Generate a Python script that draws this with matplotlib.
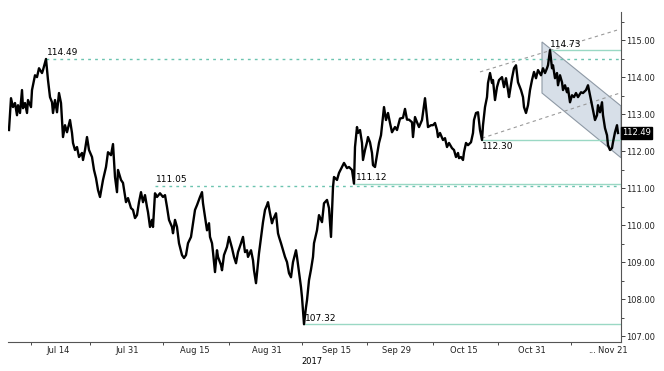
import matplotlib
matplotlib.use('Agg')
import matplotlib.pyplot as plt
from matplotlib.transforms import blended_transform_factory

# bar index (time) and close price
bars = [9, 11, 13, 15, 17, 18, 20, 22, 23, 25, 27, 28, 31, 32, 33, 35, 37, 39, 42, 43, 46, 48, 50, 52, 53,
        55, 57, 59, 61, 63, 65, 67, 70, 72, 73, 75, 77, 79, 82, 83, 85, 87, 89, 92, 94, 96, 98,
        100, 103, 106, 108, 111, 113, 115, 117, 118, 121, 123, 126, 128, 131, 133, 135, 137, 139, 141,
        143, 145, 147, 148, 150, 152, 153, 155, 157, 160, 163, 165, 167, 169, 172, 173, 175, 177, 179,
        182, 184, 186, 188, 191, 193, 195, 197, 200, 202, 203, 205, 207, 209, 210, 212, 213, 215, 217,
        218, 221, 222, 224, 227, 229, 232, 234, 236, 238, 241, 243, 245, 247, 248, 251, 253, 254, 256,
        257, 259, 262, 263, 265, 267, 268, 270, 272, 273, 276, 278, 279, 281, 283, 285, 287, 289, 291,
        293, 296, 297, 299, 301, 302, 303, 304, 306, 307, 309, 311, 313, 314, 317, 319, 322, 324, 327,
        329, 331, 333, 334, 337, 339, 342, 344, 347, 349, 352, 354, 355, 357, 358, 360, 362, 363, 365,
        367, 368, 370, 372, 373, 375, 377, 379, 381, 383, 384, 386, 388, 390, 392, 395, 397, 400, 403,
        405, 407, 409, 412, 413, 415, 417, 419, 422, 423, 425, 427, 428, 431, 433, 435, 437, 438, 440,
        443, 445, 447, 449, 452, 454, 456, 458, 459, 461, 463, 464, 466, 468, 471, 473, 474, 476, 478,
        480, 482, 483, 485, 487, 488, 490, 492, 493, 495, 497, 499, 502, 504, 506, 508, 509, 512, 514,
        516, 518, 521, 523, 524, 526, 528, 530, 532, 534, 536, 538, 541, 543, 545, 547, 548, 550, 552,
        553, 555, 557, 558, 560, 562, 563, 565, 567, 568, 570, 572, 574, 576, 578, 581, 583, 586, 588,
        590, 592, 593, 595, 597, 598, 600, 602, 603, 605, 607, 608, 610, 612, 613, 615, 617, 618]
price = [112.57, 113.43, 113.19, 113.30, 112.97, 113.24, 113.03, 113.65, 113.16, 113.30, 113.03, 113.38,
         113.19, 113.65, 113.78, 114.05, 114.00, 114.24, 114.11, 114.19, 114.49, 113.92, 113.46, 113.32,
         113.03, 113.38, 113.05, 113.57, 113.30, 112.38, 112.70, 112.51, 112.84, 112.49, 112.22, 112.03,
         112.11, 111.84, 111.95, 111.76, 112.03, 112.38, 112.03, 111.84, 111.49, 111.27, 110.95,
         110.76, 111.22, 111.57, 111.97, 111.89, 112.19, 111.30, 110.89, 111.49, 111.22, 111.14, 110.62,
         110.73, 110.46, 110.41, 110.19, 110.27, 110.62, 110.89, 110.62, 110.81, 110.49, 110.35, 109.95,
         110.14, 109.95, 110.86, 110.76, 110.86, 110.76, 110.81, 110.49, 110.14, 109.95, 109.78, 110.14,
         109.95, 109.51, 109.19, 109.11, 109.19, 109.51, 109.68, 110.05, 110.41, 110.54, 110.76, 110.89,
         110.59, 110.22, 109.86, 110.05, 109.68, 109.51, 109.27, 108.73, 109.32, 109.14, 108.92, 108.78,
         109.19, 109.41, 109.68, 109.38, 109.14, 108.97, 109.27, 109.51, 109.68, 109.27, 109.32, 109.14,
         109.32, 109.05, 108.78, 108.43, 108.70, 109.24, 109.86, 110.08, 110.41, 110.54, 110.62, 110.32,
         110.05, 110.14, 110.32, 109.78, 109.68, 109.51, 109.32, 109.14, 109.00, 108.70, 108.59, 109.00,
         109.32, 109.14, 108.73, 108.32, 108.05, 107.70, 107.32, 107.78, 107.97, 108.51, 108.80, 109.14,
         109.51, 109.86, 110.27, 110.08, 110.59, 110.68, 110.46, 109.68, 111.03, 111.30, 111.22, 111.41,
         111.57, 111.68, 111.54, 111.57, 111.49, 111.12, 112.11, 112.65, 112.49, 112.57, 112.22, 111.76,
         112.03, 112.24, 112.38, 112.24, 111.95, 111.62, 111.57, 111.89, 112.22, 112.43, 112.92, 113.19,
         112.84, 113.03, 112.76, 112.51, 112.65, 112.57, 112.88, 112.90, 113.14, 112.85, 112.85, 112.78,
         112.38, 112.92, 112.78, 112.65, 112.84, 113.03, 113.43, 112.89, 112.65, 112.70, 112.70, 112.76,
         112.57, 112.38, 112.49, 112.30, 112.35, 112.11, 112.22, 112.08, 112.03, 111.84, 111.95, 111.81,
         111.84, 111.76, 111.97, 112.22, 112.16, 112.24, 112.49, 112.84, 113.03, 113.05, 112.57, 112.30,
         112.70, 113.19, 113.46, 113.84, 114.11, 113.84, 113.92, 113.38, 113.73, 113.92, 114.00, 113.73,
         113.97, 113.65, 113.46, 113.97, 114.24, 114.32, 113.86, 113.65, 113.46, 113.19, 113.03, 113.24,
         113.65, 113.92, 114.14, 113.97, 114.19, 114.05, 114.24, 114.11, 114.24, 114.32, 114.73, 114.24,
         114.32, 113.97, 114.11, 113.78, 114.05, 113.86, 113.65, 113.78, 113.59, 113.70, 113.32, 113.51,
         113.46, 113.57, 113.46, 113.59, 113.57, 113.65, 113.78, 113.51, 113.24, 113.11, 112.84, 112.97,
         113.24, 113.05, 113.32, 112.97, 112.62, 112.43, 112.16, 112.03, 112.08, 112.24, 112.51, 112.70,
         112.49]

last_price = 112.49

# date axis
date_labels = ['Jul 14', 'Jul 31', 'Aug 15', 'Aug 31', 'Sep 15', 'Sep 29', 'Oct 15', 'Oct 31', 'Nov 21']
date_pos = [58, 127, 195, 267, 337, 397, 464, 532, 613]
date_ticks = [31, 90, 163, 229, 302, 367, 433, 498, 571]

# horizontal levels: (value, start bar, dotted?)
levels = [114.49, 111.05, 111.12, 107.32, 112.30, 114.73]
level_start = [46, 155, 354, 304, 482, 550]
level_dotted = [True, True, False, False, False, False]

# channel lines
up_chan_x = [[480, 617], [482, 620]]
up_chan_y = [[114.14, 115.27], [112.35, 113.57]]
down_x = [542, 621, 621, 542]
down_y = [114.95, 113.22, 111.82, 113.57]

x_end = 621

fig = plt.figure(figsize=(6.64, 3.71), dpi=100)
ax = fig.add_axes([8 / 664, 1 - 342 / 371, (x_end - 8) / 664, 330 / 371])

ax.fill(down_x, down_y, facecolor='#d7dfe8', edgecolor='#8e99a5', lw=0.8, zorder=1)
for xs, ys in zip(up_chan_x, up_chan_y):
    ax.plot(xs, ys, color='#9a9a9a', lw=0.8, ls=(0, (3, 3)), zorder=2)

for lv, st, dot in zip(levels, level_start, level_dotted):
    if dot:
        ax.hlines(lv, st, x_end, color='#6cc4b0', lw=1.0, ls=(0, (2, 3)), zorder=2)
    else:
        ax.hlines(lv, st, x_end, color='#9ad8c4', lw=1.0, zorder=2)

ax.plot(bars, price, color='black', lw=1.7, zorder=3)

fs = 6.5
ax.text(47, 114.55, '114.49', fontsize=fs, ha='left', va='bottom')
ax.text(156, 111.11, '111.05', fontsize=fs, ha='left', va='bottom')
ax.text(356, 111.16, '111.12', fontsize=fs, ha='left', va='bottom')
ax.text(305, 107.36, '107.32', fontsize=fs, ha='left', va='bottom')
ax.text(482, 112.24, '112.30', fontsize=fs, ha='left', va='top')
ax.text(550, 114.76, '114.73', fontsize=fs, ha='left', va='bottom')

trans = blended_transform_factory(ax.transAxes, ax.transData)
ax.text(1.002, last_price, f'{last_price:.2f}', transform=trans, fontsize=6, color='white',
        ha='left', va='center', clip_on=False,
        bbox=dict(boxstyle='square,pad=0.15', facecolor='black', edgecolor='black'))

ax.set_xlim(8, x_end)
ax.set_ylim(106.84, 115.76)

for s in ['left', 'top']:
    ax.spines[s].set_visible(False)
for s in ['right', 'bottom']:
    ax.spines[s].set_color('#555555')
    ax.spines[s].set_linewidth(0.8)

ax.yaxis.tick_right()
ax.set_yticks([107, 108, 109, 110, 111, 112, 113, 114, 115])
ax.set_yticklabels([f'{v:.2f}' for v in range(107, 116)])
ax.set_yticks([107.5, 108.5, 109.5, 110.5, 111.5, 112.5, 113.5, 114.5, 115.5], minor=True)
ax.tick_params(axis='y', which='major', length=3, width=0.6, pad=1, labelsize=6, colors='#222222')
ax.tick_params(axis='y', which='minor', length=2, width=0.5)

ax.set_xticks(date_pos)
ax.set_xticklabels(date_labels)
ax.set_xticks(date_ticks, minor=True)
ax.tick_params(axis='x', which='major', length=0, pad=3, labelsize=6, colors='#222222')
ax.tick_params(axis='x', which='minor', length=2, width=0.5)

btrans = blended_transform_factory(ax.transData, ax.transAxes)
ax.text(592, -0.012, '...', transform=btrans, fontsize=6, ha='center', va='top')
ax.text(312, -0.045, '2017', transform=btrans, fontsize=6, ha='center', va='top')

fig.savefig('out.png', dpi=100)
